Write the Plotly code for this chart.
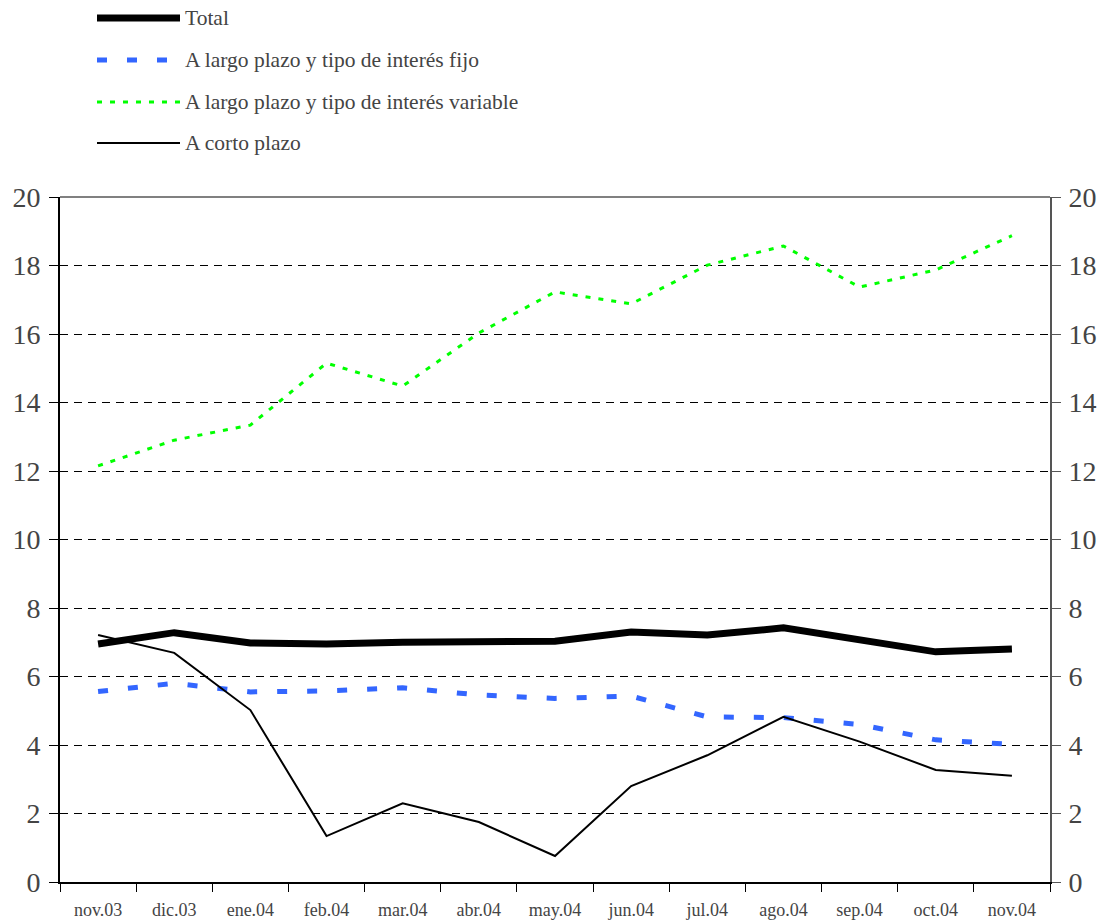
import plotly.graph_objects as go

meses = ["nov.03", "dic.03", "ene.04", "feb.04", "mar.04", "abr.04", "may.04",
         "jun.04", "jul.04", "ago.04", "sep.04", "oct.04", "nov.04"]
total = [6.95, 7.28, 6.98, 6.95, 7.00, 7.03, 7.03, 7.30, 7.21, 7.42, 7.07, 6.72, 6.80]
fijo = [5.56, 5.80, 5.55, 5.58, 5.67, 5.46, 5.36, 5.43, 4.82, 4.80, 4.60, 4.15, 4.02]
variable = [12.15, 12.90, 13.34, 15.15, 14.48, 16.03, 17.23, 16.88, 18.01, 18.57, 17.37, 17.87, 18.87]
corto = [7.21, 6.69, 5.02, 1.34, 2.30, 1.75, 0.76, 2.80, 3.70, 4.82, 4.10, 3.27, 3.10]

nombres = ["Total", "A largo plazo y tipo de interés fijo",
           "A largo plazo y tipo de interés variable", "A corto plazo"]
yticks = [0, 2, 4, 6, 8, 10, 12, 14, 16, 18, 20]

FONT = "Liberation Serif"
estilos = [
    dict(color="black", width=7, dash="solid"),
    dict(color="#3366FF", width=5, dash="10px,20px"),
    dict(color="#00FF00", width=3, dash="5px,8px"),
    dict(color="black", width=2, dash="solid"),
]
series = [total, fijo, variable, corto]

fig = go.Figure()
for nombre, vals, est in zip(nombres, series, estilos):
    fig.add_trace(go.Scatter(x=meses, y=vals, mode="lines", name=nombre,
                             line=dict(color=est["color"], width=est["width"], dash=est["dash"]),
                             showlegend=False))

# invisible trace to drive the right axis
fig.add_trace(go.Scatter(x=meses, y=total, yaxis="y2", mode="lines",
                         line=dict(width=0), hoverinfo="skip", showlegend=False, opacity=0))

W, H = 1103, 922
L, R, T, B = 60, 53, 197, 40
pw, ph = W - L - R, H - T - B

def px2paper(px, py):
    return (px - L) / pw, (H - B - py) / ph

shapes = []
annotations = []
leg_y = [18, 60, 102, 143]
for nombre, est, py in zip(nombres, estilos, leg_y):
    x0, y0 = px2paper(97, py)
    x1, _ = px2paper(180, py)
    shapes.append(dict(type="line", xref="paper", yref="paper", x0=x0, x1=x1, y0=y0, y1=y0,
                       line=dict(color=est["color"], width=est["width"], dash=est["dash"])))
    tx, _ = px2paper(183, py)
    annotations.append(dict(text=nombre, xref="paper", yref="paper", x=tx, y=y0,
                            xanchor="left", yanchor="middle", showarrow=False,
                            font=dict(family=FONT, size=21.5)))

# top border of plot area
shapes.append(dict(type="line", xref="paper", yref="paper", x0=0, x1=1, y0=1, y1=1,
                   line=dict(color="#808080", width=2)))

fig.update_layout(
    template="none",
    width=W, height=H,
    margin=dict(l=L, r=R, t=T, b=B, autoexpand=False),
    plot_bgcolor="white", paper_bgcolor="white",
    shapes=shapes, annotations=annotations,
    xaxis=dict(type="category", categoryorder="array", categoryarray=meses,
               range=[-0.5, 12.5], showgrid=False, showline=True, linecolor="black", linewidth=2,
               ticks="outside", tickson="boundaries", ticklen=8, tickcolor="black", tickwidth=1,
               ticklabelstandoff=10, automargin=False,
               tickfont=dict(family=FONT, size=18), zeroline=False),
    yaxis=dict(range=[0, 20], tickvals=yticks, ticktext=[str(v) for v in yticks],
               showline=True, linecolor="black", linewidth=2, automargin=False,
               ticks="outside", ticklen=9, tickcolor="black", tickwidth=1, ticklabelstandoff=3,
               showgrid=True, gridcolor="black", gridwidth=1, griddash="8px,6px",
               zeroline=False, tickfont=dict(family=FONT, size=28)),
    yaxis2=dict(range=[0, 20], tickvals=yticks, ticktext=[str(v) for v in yticks],
                overlaying="y", side="right", showline=True, linecolor="#555555", linewidth=2,
                ticks="outside", ticklen=9, tickcolor="#555555", tickwidth=1, automargin=False,
                ticklabelstandoff=2,
                showgrid=False, zeroline=False, tickfont=dict(family=FONT, size=28)),
)

fig.write_html("out.html")
